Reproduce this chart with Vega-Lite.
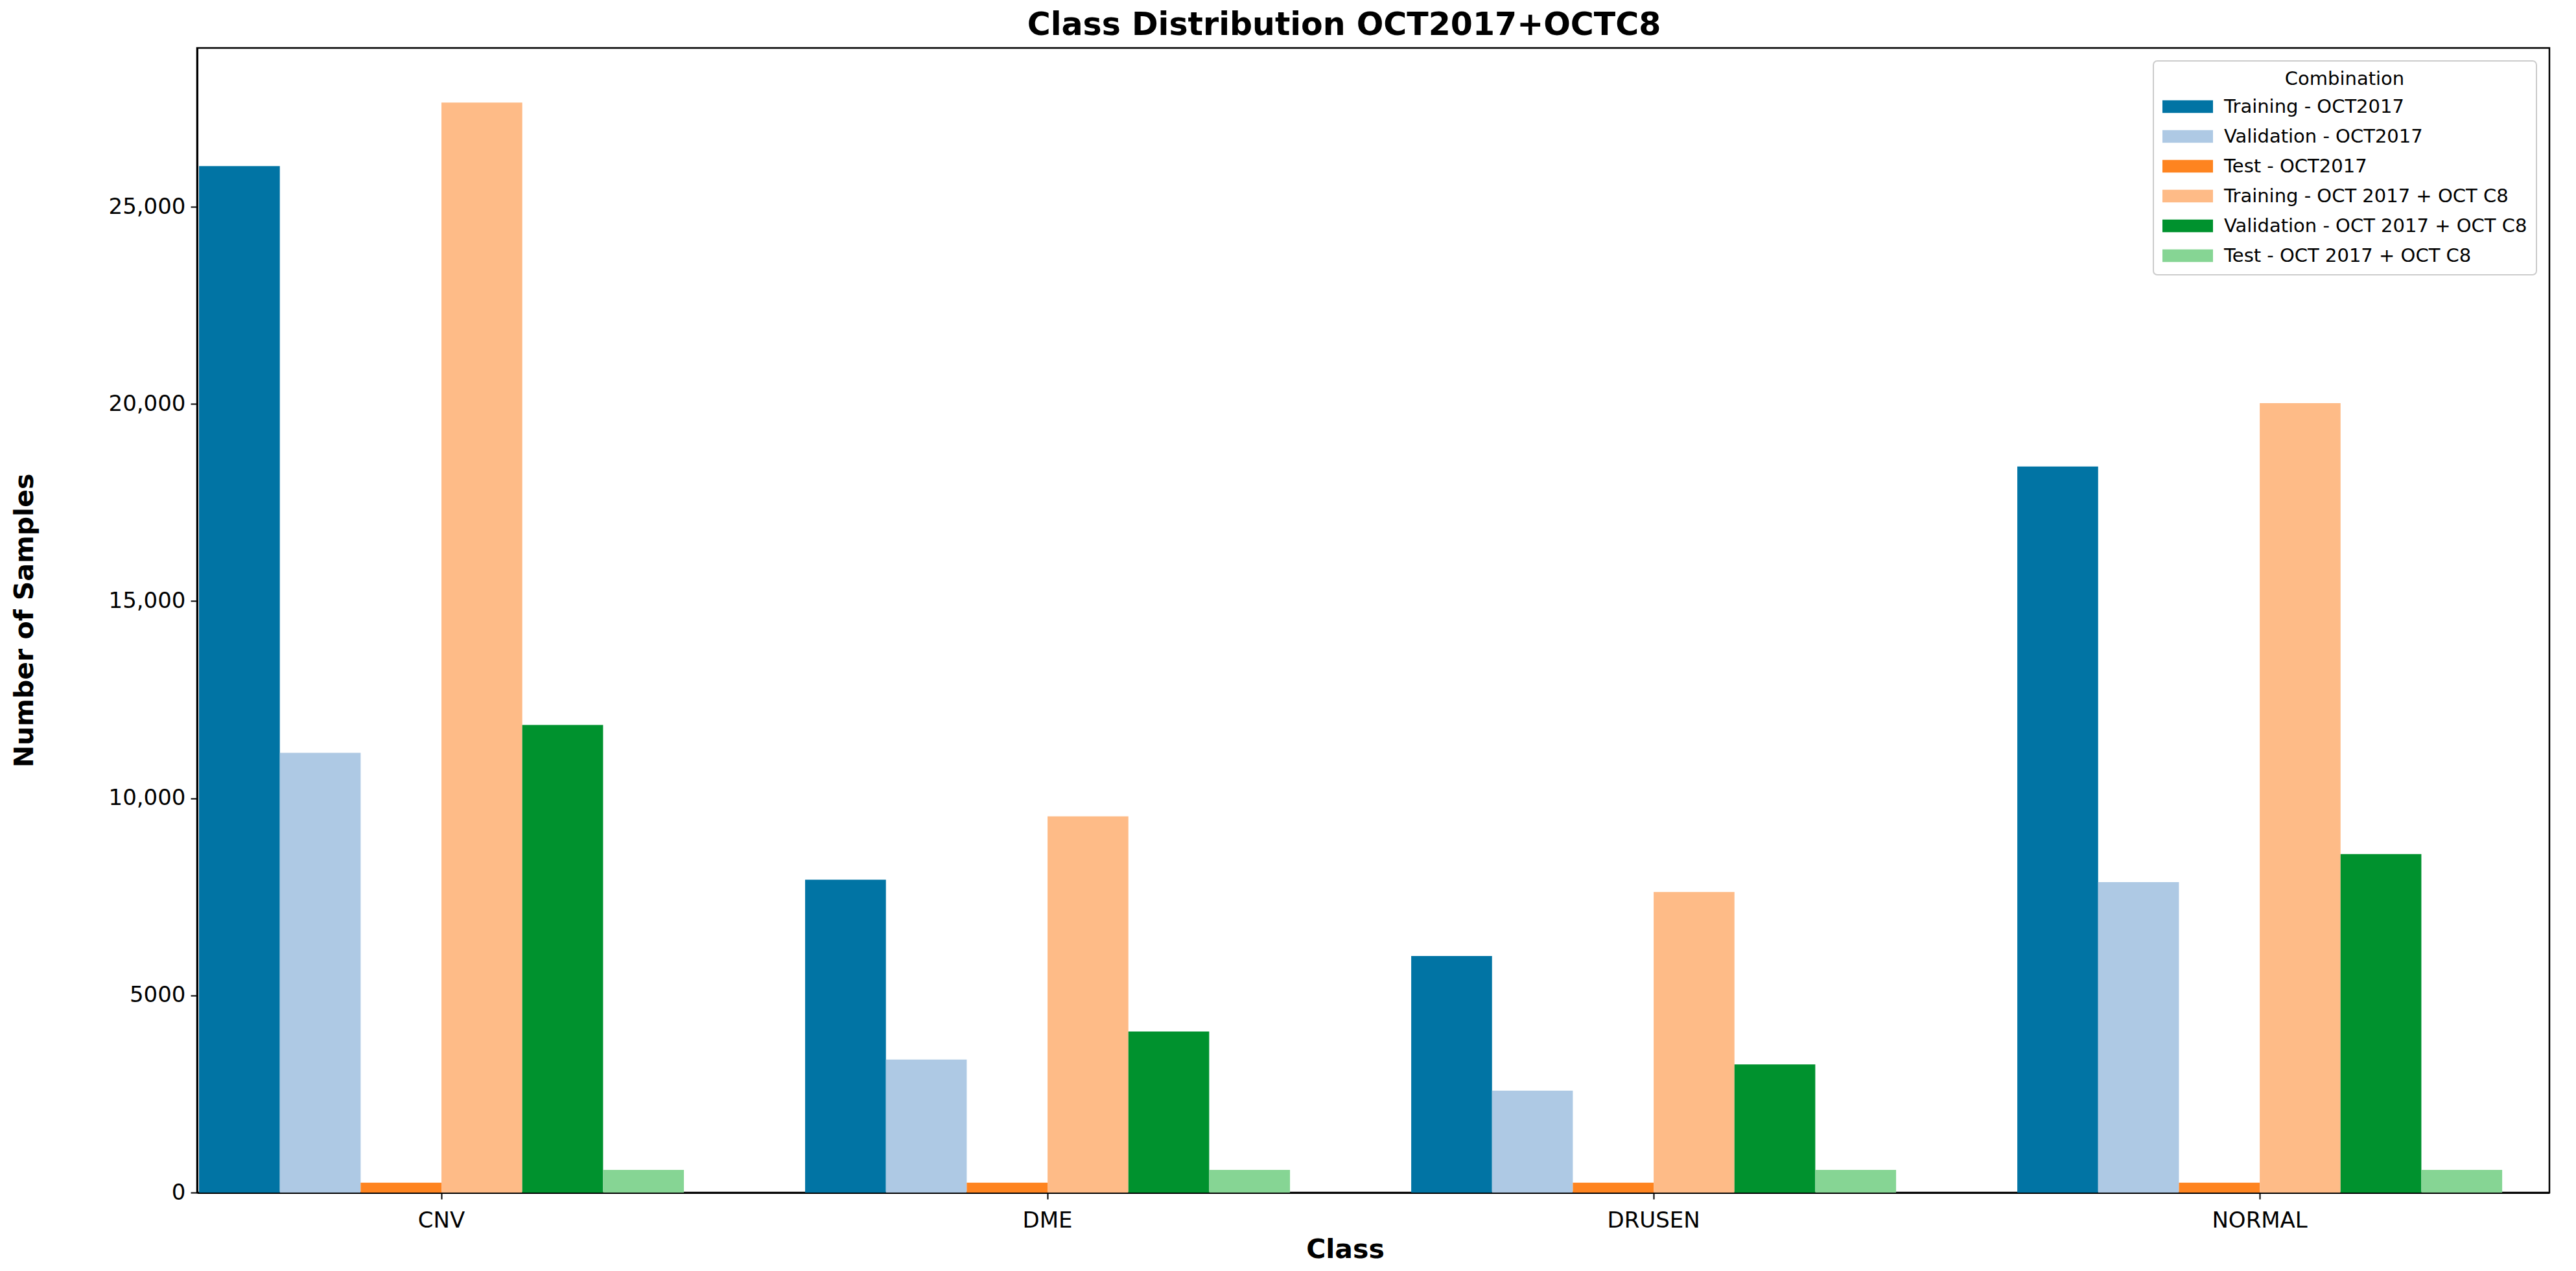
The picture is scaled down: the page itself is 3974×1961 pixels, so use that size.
{
  "$schema": "https://vega.github.io/schema/vega-lite/v6.json",
  "autosize": {"type": "none"},
  "padding": {"left": 304, "top": 74, "right": 41, "bottom": 121},
  "width": 3629,
  "height": 1766,
  "background": "white",
  "title": {"text": "Class Distribution OCT2017+OCTC8", "font": "DejaVu Sans", "fontSize": 49, "fontWeight": "bold", "color": "black", "anchor": "middle", "offset": 10, "dx": -45},
  "data": {"values": [
    {"Class": "CNV", "Combination": "Training - OCT2017", "Count": 26035},
    {"Class": "CNV", "Combination": "Validation - OCT2017", "Count": 11155},
    {"Class": "CNV", "Combination": "Test - OCT2017", "Count": 250},
    {"Class": "CNV", "Combination": "Training - OCT 2017 + OCT C8", "Count": 27645},
    {"Class": "CNV", "Combination": "Validation - OCT 2017 + OCT C8", "Count": 11860},
    {"Class": "CNV", "Combination": "Test - OCT 2017 + OCT C8", "Count": 575},
    {"Class": "DME", "Combination": "Training - OCT2017", "Count": 7934},
    {"Class": "DME", "Combination": "Validation - OCT2017", "Count": 3375},
    {"Class": "DME", "Combination": "Test - OCT2017", "Count": 250},
    {"Class": "DME", "Combination": "Training - OCT 2017 + OCT C8", "Count": 9543},
    {"Class": "DME", "Combination": "Validation - OCT 2017 + OCT C8", "Count": 4083},
    {"Class": "DME", "Combination": "Test - OCT 2017 + OCT C8", "Count": 575},
    {"Class": "DRUSEN", "Combination": "Training - OCT2017", "Count": 6000},
    {"Class": "DRUSEN", "Combination": "Validation - OCT2017", "Count": 2583},
    {"Class": "DRUSEN", "Combination": "Test - OCT2017", "Count": 250},
    {"Class": "DRUSEN", "Combination": "Training - OCT 2017 + OCT C8", "Count": 7625},
    {"Class": "DRUSEN", "Combination": "Validation - OCT 2017 + OCT C8", "Count": 3250},
    {"Class": "DRUSEN", "Combination": "Test - OCT 2017 + OCT C8", "Count": 575},
    {"Class": "NORMAL", "Combination": "Training - OCT2017", "Count": 18413},
    {"Class": "NORMAL", "Combination": "Validation - OCT2017", "Count": 7875},
    {"Class": "NORMAL", "Combination": "Test - OCT2017", "Count": 250},
    {"Class": "NORMAL", "Combination": "Training - OCT 2017 + OCT C8", "Count": 20023},
    {"Class": "NORMAL", "Combination": "Validation - OCT 2017 + OCT C8", "Count": 8583},
    {"Class": "NORMAL", "Combination": "Test - OCT 2017 + OCT C8", "Count": 575}
  ]},
  "mark": {"type": "bar"},
  "encoding": {
    "x": {
      "field": "Class", "type": "nominal",
      "sort": ["CNV", "DME", "DRUSEN", "NORMAL"],
      "scale": {"paddingInner": 0.2, "paddingOuter": 0.0406, "align": 0.04},
      "axis": {
        "title": "Class", "labelAngle": 0, "labelFontSize": 34, "labelPadding": 16,
        "titleFontSize": 41, "titleX": 1771, "titleY": 88, "titleBaseline": "middle", "titleAnchor": "middle"
      }
    },
    "xOffset": {
      "field": "Combination", "type": "nominal",
      "sort": ["Training - OCT2017", "Validation - OCT2017", "Test - OCT2017", "Training - OCT 2017 + OCT C8", "Validation - OCT 2017 + OCT C8", "Test - OCT 2017 + OCT C8"],
      "scale": {"paddingInner": 0, "paddingOuter": 0}
    },
    "y": {
      "field": "Count", "type": "quantitative",
      "scale": {"domain": [0, 29030], "nice": false, "zero": true},
      "axis": {
        "title": "Number of Samples", "values": [0, 5000, 10000, 15000, 20000, 25000],
        "labelExpr": "datum.value >= 10000 ? format(datum.value, ',') : format(datum.value, 'd')",
        "labelFontSize": 34, "labelPadding": 8,
        "titleFontSize": 41, "titleX": -266, "titleY": 883, "titleAngle": -90, "titleBaseline": "middle", "titleAnchor": "middle"
      }
    },
    "color": {
      "field": "Combination", "type": "nominal",
      "sort": ["Training - OCT2017", "Validation - OCT2017", "Test - OCT2017", "Training - OCT 2017 + OCT C8", "Validation - OCT 2017 + OCT C8", "Test - OCT 2017 + OCT C8"],
      "scale": {
        "domain": ["Training - OCT2017", "Validation - OCT2017", "Test - OCT2017", "Training - OCT 2017 + OCT C8", "Validation - OCT 2017 + OCT C8", "Test - OCT 2017 + OCT C8"],
        "range": ["#0174a4", "#aec9e4", "#fe8420", "#febb87", "#00922e", "#86d594"]
      },
      "legend": {
        "title": "Combination", "orient": "top-right", "offset": 20,
        "titleFont": "DejaVu Sans", "titleFontSize": 29, "titleFontWeight": "normal", "titleAnchor": "middle", "titleColor": "black", "titlePadding": 8, "titleLimit": 1000,
        "labelFont": "DejaVu Sans", "labelFontSize": 29, "labelColor": "black", "labelOffset": 56, "labelLimit": 1000,
        "symbolType": "M-1,-0.5H3V0.5H-1Z", "symbolSize": 1521, "symbolStrokeWidth": 0, "symbolOpacity": 1,
        "rowPadding": 11, "padding": 14,
        "fillColor": "white", "strokeColor": "#cccccc", "cornerRadius": 6
      }
    }
  },
  "config": {
    "font": "DejaVu Sans",
    "view": {"stroke": "black", "strokeWidth": 2.5},
    "legend": {"strokeWidth": 2},
    "axis": {
      "labelFont": "DejaVu Sans", "labelColor": "black", "titleFont": "DejaVu Sans", "titleFontWeight": "bold", "titleColor": "black",
      "domainColor": "black", "domainWidth": 3, "tickColor": "black", "tickWidth": 2, "tickSize": 10, "grid": false
    }
  }
}
